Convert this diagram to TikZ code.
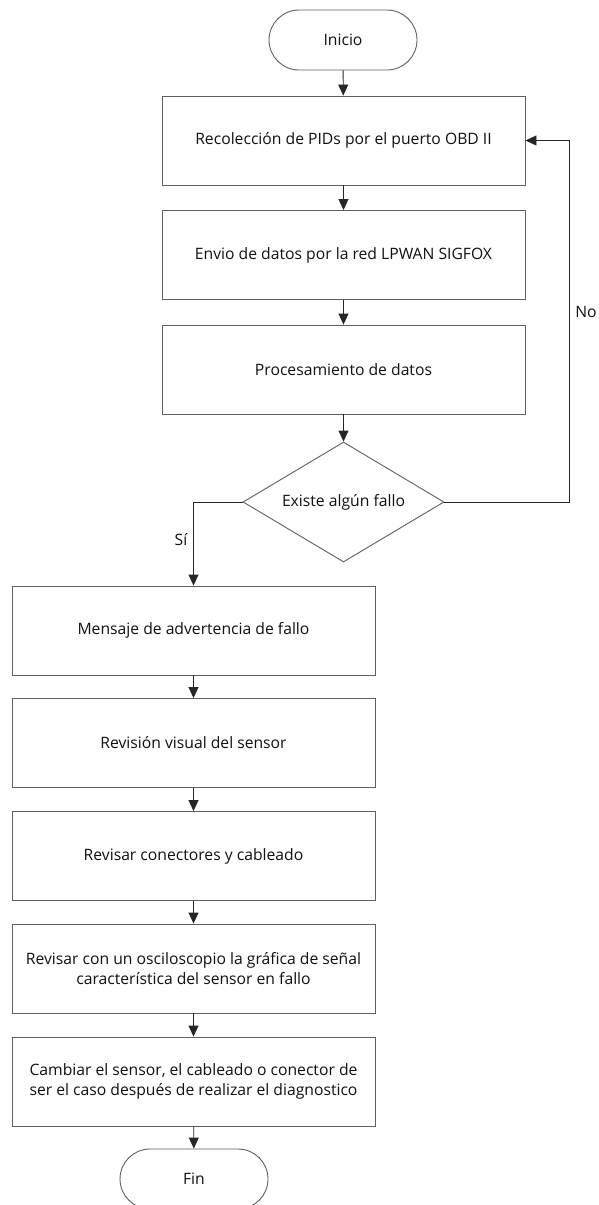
\documentclass[tikz,border=0pt]{standalone}
\usepackage{fontspec}
\setmainfont{Open Sans}
\usepackage{tikz}
\usetikzlibrary{arrows.meta,positioning,shapes.geometric,shapes.misc}
\definecolor{cline}{HTML}{606060}
\definecolor{ctext}{HTML}{111111}

\begin{document}
\begin{tikzpicture}[
    x=1pt, y=-1pt,
    font=\fontsize{15.7}{20.5}\selectfont,
    base/.style={draw=cline, line width=0.9pt, fill=white, text=ctext, align=center, inner sep=0pt},
    term/.style={base, rounded rectangle, minimum width=148pt, minimum height=60pt},
    proc/.style={base, rectangle, minimum width=363pt, minimum height=89pt},
    decide/.style={base, diamond, aspect=1.675, minimum width=201pt, minimum height=120pt},
    flow/.style={draw=black!85, line width=0.9pt, -{Triangle[length=11pt,width=10pt]}},
    lbl/.style={font=\fontsize{15.7}{18}\selectfont, text=ctext},
]
\useasboundingbox (0,0) rectangle (599,1205);

% Upper column
\node[term] (inicio) at (343, 40) {Inicio};
\node[proc] (pids) at (343.5, 140.5) {Recolección de PIDs por el puerto OBD II};
\node[proc] (envio) at (343.5, 255) {Envio de datos por la red LPWAN SIGFOX};
\node[proc] (proc) at (343.5, 369.5) {Procesamiento de datos};
\node[decide] (fallo) at (343.5, 502) {Existe algún fallo};

% Lower column
\node[proc] (msg) at (193.5, 630.5) {Mensaje de advertencia de fallo};
\node[proc] (visual) at (193.5, 743) {Revisión visual del sensor};
\node[proc] (conect) at (193.5, 856) {Revisar conectores y cableado};
\node[proc] (osc) at (193.5, 968.5) {Revisar con un osciloscopio la gráfica de señal\\característica del sensor en fallo};
\node[proc] (cambio) at (193.5, 1081.5) {Cambiar el sensor, el cableado o conector de\\ser el caso después de realizar el diagnostico};
\node[term] (fin) at (194, 1179) {Fin};

% Connectors
\draw[flow] (inicio) -- (pids);
\draw[flow] (pids) -- (envio);
\draw[flow] (envio) -- (proc);
\draw[flow] (proc) -- (fallo);
\draw[flow] (fallo.east) -- ++(125,0) coordinate (nocorner) |- (pids.east);
\draw[flow] (fallo.west) -| (msg.north);
\draw[flow] (msg) -- (visual);
\draw[flow] (visual) -- (conect);
\draw[flow] (conect) -- (osc);
\draw[flow] (osc) -- (cambio);
\draw[flow] (cambio) -- (fin);

% Branch labels
\node[lbl] (no) at (586, 312) {No};
\node[lbl] (si) at (181, 540) {Sí};

\end{tikzpicture}
\end{document}
